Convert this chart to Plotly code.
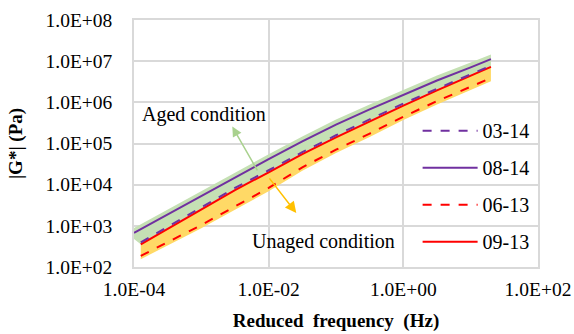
import plotly.graph_objects as go

# Reduced frequency (Hz)
freq = [1.26e-4, 3.16e-4, 1.0e-3, 3.16e-3, 1.0e-2, 3.16e-2, 0.1, 0.316, 1.0, 3.16, 10.0, 20.0]
freq_start = [1.0e-4] + freq

# |G*| (Pa)
g_03_14 = [398, 955, 2818, 8318, 22390, 61660, 158500, 389000, 933300, 2138000, 4898000, 7762000]
g_08_14 = [676, 832, 1905, 5370, 15140, 41690, 112200, 288400, 676100, 1549000, 3388000, 7079000, 11220000]
g_06_13 = [186, 398, 1047, 2951, 8318, 26300, 70790, 173800, 446700, 1072000, 2455000, 3890000]
g_09_13 = [355, 851, 2512, 7413, 19950, 54950, 141300, 346700, 831800, 1950000, 4467000, 7244000]

# shaded envelopes
aged_upper = [891, 1096, 2512, 7079, 19950, 54950, 147900, 380200, 891300, 2042000, 4467000, 9333000, 14450000]
aged_lower = [478, 355, 851, 2512, 7413, 19950, 54950, 141300, 346700, 831800, 1950000, 4467000, 7244000]
unaged_upper = g_09_13
unaged_lower = [155, 331, 871, 2455, 6918, 21880, 58880, 144500, 371500, 891300, 2042000, 3236000]

x_ticks = [1e-4, 1e-2, 1e0, 1e2]
x_ticktext = ["1.0E-04", "1.0E-02", "1.0E+00", "1.0E+02"]
y_ticks = [1e2, 1e3, 1e4, 1e5, 1e6, 1e7, 1e8]
y_ticktext = ["1.0E+02", "1.0E+03", "1.0E+04", "1.0E+05", "1.0E+06", "1.0E+07", "1.0E+08"]

GREEN = "#C5E0B4"
YELLOW = "#FFD966"
PURPLE = "#7030A0"
RED = "#FF0000"
FONT = "Liberation Serif, Times New Roman, serif"

fig = go.Figure()

# aged band
fig.add_trace(go.Scatter(x=freq_start, y=aged_lower, mode="lines", line=dict(width=0),
                         showlegend=False, hoverinfo="skip"))
fig.add_trace(go.Scatter(x=freq_start, y=aged_upper, mode="lines", line=dict(width=0),
                         fill="tonexty", fillcolor=GREEN, showlegend=False, hoverinfo="skip"))
# unaged band
fig.add_trace(go.Scatter(x=freq, y=unaged_lower, mode="lines", line=dict(width=0),
                         showlegend=False, hoverinfo="skip"))
fig.add_trace(go.Scatter(x=freq, y=unaged_upper, mode="lines", line=dict(width=0),
                         fill="tonexty", fillcolor=YELLOW, showlegend=False, hoverinfo="skip"))

fig.add_trace(go.Scatter(x=freq, y=g_06_13, name="06-13", mode="lines",
                         line=dict(color=RED, width=2, dash="dash"), legendrank=3, legendgroup="c"))
fig.add_trace(go.Scatter(x=freq, y=g_09_13, name="09-13", mode="lines",
                         line=dict(color=RED, width=2), legendrank=4, legendgroup="d"))
fig.add_trace(go.Scatter(x=freq_start, y=g_08_14, name="08-14", mode="lines",
                         line=dict(color=PURPLE, width=2), legendrank=2, legendgroup="b"))
fig.add_trace(go.Scatter(x=freq, y=g_03_14, name="03-14", mode="lines",
                         line=dict(color=PURPLE, width=2, dash="dash"), legendrank=1, legendgroup="a"))

fig.add_annotation(x=-2.96, y=5.70, text="Aged condition", showarrow=False,
                   font=dict(family=FONT, size=20, color="#000000"))
fig.add_annotation(x=-2.54, y=5.41, ax=-2.155, ay=4.31, axref="x", ayref="y",
                   text="", showarrow=True, arrowhead=2, arrowsize=1.3, arrowwidth=1.5,
                   arrowcolor="#A9D18E")
fig.add_annotation(x=-1.19, y=2.63, text="Unaged condition", showarrow=False,
                   font=dict(family=FONT, size=20, color="#000000"))
fig.add_annotation(x=-1.59, y=3.31, ax=-2.006, ay=4.19, axref="x", ayref="y",
                   text="", showarrow=True, arrowhead=2, arrowsize=1.5, arrowwidth=1.5,
                   arrowcolor="#FFC000")

fig.update_xaxes(type="log", range=[-4, 2], tickvals=x_ticks, ticktext=x_ticktext,
                 showgrid=True, gridcolor="#D9D9D9", gridwidth=1.5,
                 showline=True, linecolor="#D9D9D9", linewidth=1.5, mirror=True,
                 ticks="", zeroline=False, automargin=False, ticklabelstandoff=4,
                 ticklabeloverflow="allow",
                 tickfont=dict(family=FONT, size=19.5, color="#000000"),
                 title=dict(text="<b>Reduced  frequency  (Hz)</b>", standoff=15,
                            font=dict(family=FONT, size=19, color="#000000")))
fig.update_yaxes(type="log", range=[2, 8], tickvals=y_ticks, ticktext=y_ticktext,
                 showgrid=True, gridcolor="#D9D9D9", gridwidth=1.5,
                 showline=True, linecolor="#D9D9D9", linewidth=1.5, mirror=True,
                 ticks="", zeroline=False, automargin=False, ticklabelstandoff=16,
                 tickfont=dict(family=FONT, size=19.5, color="#000000"),
                 title=dict(text="<b>|G*| (Pa)</b>", standoff=18,
                            font=dict(family=FONT, size=19, color="#000000")))

fig.update_layout(
    width=574, height=334,
    margin=dict(l=134, r=36, t=20, b=67),
    paper_bgcolor="white", plot_bgcolor="white",
    legend=dict(x=0.702, y=0.631, xanchor="left", yanchor="top",
                bgcolor="rgba(0,0,0,0)", tracegroupgap=8, itemwidth=55,
                font=dict(family=FONT, size=20, color="#000000")),
)

fig.write_html("out.html", config={"displayModeBar": False},
               post_script="document.body.style.margin='0';document.body.style.overflow='hidden';")
